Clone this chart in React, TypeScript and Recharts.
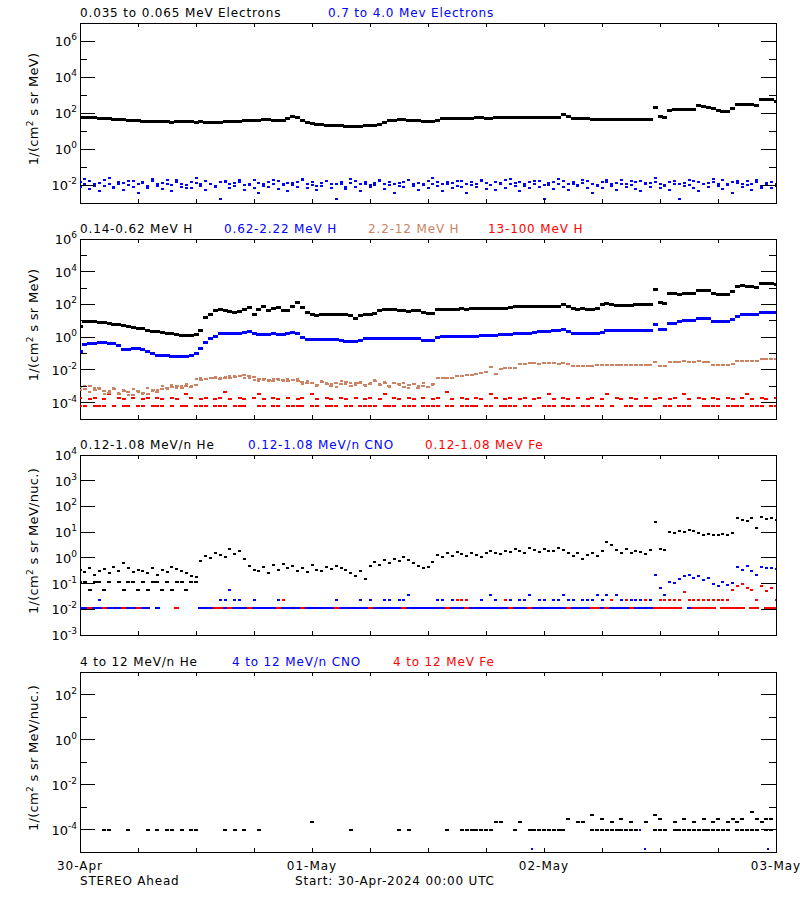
import { ScatterChart, Scatter, XAxis, YAxis, ReferenceArea } from 'recharts';

const N = null;
const STEP = 0.5; // hours between samples, starting 30-Apr 00:00
const HOUR_TICKS = [0, 6, 12, 18, 24, 30, 36, 42, 48, 54, 60, 66, 72];
const DAY_LABELS: Record<number, string> = { 0: '30-Apr', 24: '01-May', 48: '02-May', 72: '03-May' };

const P1_TICKS = [1e-3, 1e-2, 1e-1, 1, 10, 100, 1e3, 1e4, 1e5, 1e6, 1e7];
const P2_TICKS = [1e-5, 1e-4, 1e-3, 1e-2, 1e-1, 1, 10, 100, 1e3, 1e4, 1e5, 1e6];
const P3_TICKS = [1e-3, 1e-2, 1e-1, 1, 10, 100, 1e3, 1e4];
const P4_TICKS = [1e-5, 1e-4, 1e-3, 1e-2, 1e-1, 1, 10, 100, 1e3];

// 0.035 to 0.065 MeV electrons
const E_LOW = [
  58, 56, 55, 54, 52, 50, 48, 46, 44, 42, 40, 38, 36, 34,
  33, 33, 32, 33, 32, 31, 32, 32, 33, 32, 31, 32, 30, 29, 30, 31,
  32, 33, 34, 35, 36, 37, 38, 40, 42, 41, 40, 39, 40, 48, 63, 55, 40, 28,
  26, 24, 22, 21, 21, 20, 19, 18, 17, 17, 18, 19, 20, 21, 22, 30,
  36, 40, 41, 41, 40, 40, 39, 34, 33, 33, 40, 50,
  50, 51, 52, 52, 51, 52, 53, 53, 52, 52, 54, 55, 55, 55, 55, 56, 56, 55, 55, 54, 55, 55, 56, 56,
  78, 60, 52, 50, 48, 47, 46, 45, 44, 44, 45, 46, 45, 44, 44, 45, 46, 45, 46, 209,
  60, 55, 140, 148, 150, 158, 160, 162, 245, 240, 190, 182, 140, 128, 125, 180, 290, 302, 300, 290, 250, 560, 575, 570, 430,
];

// 0.7 to 4.0 MeV electrons
const E_HIGH_A = [
  0.014, 0.011, 0.016, 0.009, 0.013, 0.018, 0.012, 0.008, 0.015, 0.013, 0.010, 0.017, 0.012, 0.014, 0.009, 0.016,
  0.011, 0.013, 0.019, 0.010, 0.014, 0.012, 0.007, 0.015, 0.013, 0.011, 0.016, 0.012, 0.009, 0.014, 0.017, 0.011,
  0.013, 0.015, 0.010, 0.012, 0.018, 0.013, 0.009, 0.014, 0.012, 0.016, 0.011, 0.013, 0.010, 0.015, 0.020, 0.012,
  0.014, 0.009, 0.013, 0.016, 0.011, 0.012, 0.015, 0.008, 0.013, 0.017, 0.012, 0.014, 0.010, 0.013, 0.016, 0.011,
  0.015, 0.012, 0.009, 0.014, 0.018, 0.012, 0.013, 0.010, 0.016, 0.012, 0.014, 0.011, 0.015, 0.013, 0.009, 0.017,
  0.012, 0.014, 0.011, 0.016, 0.013, 0.010, 0.014, 0.012, 0.018, 0.011, 0.013, 0.015, 0.009, 0.014, 0.012, 0.016,
  0.010, 0.013, 0.015, 0.011, 0.017, 0.012, 0.014, 0.010, 0.013, 0.016, 0.012, 0.009, 0.014, 0.015, 0.011, 0.013,
  0.018, 0.012, 0.010, 0.014, 0.016, 0.011, 0.013, 0.015, 0.012, 0.009, 0.014, 0.017, 0.012, 0.013, 0.010, 0.016,
  0.014, 0.011, 0.013, 0.015, 0.012, 0.018, 0.010, 0.014, 0.013, 0.011, 0.016, 0.012, 0.014, 0.009, 0.013, 0.015, 0.011,
];
const E_HIGH_B = [
  0.0075, 0.021, 0.006, 0.012, 0.0045, 0.009, 0.024, 0.007, 0.011, 0.0055, 0.016, 0.008, 0.0035, 0.013, 0.007, 0.022,
  0.009, 0.006, 0.012, 0.0045, 0.018, 0.008, 0.010, 0.0065, 0.025, 0.009, 0.005, 0.011, 0.0075, 0.0016, 0.014, 0.0065,
  0.009, 0.020, 0.0055, 0.010, 0.007, 0.0035, 0.012, 0.008, 0.019, 0.006, 0.0095, 0.0045, 0.013, 0.0075, 0.022, 0.0065,
  0.010, 0.005, 0.0085, 0.017, 0.007, 0.0016, 0.011, 0.006, 0.021, 0.008, 0.0045, 0.012, 0.0075, 0.0095, 0.018, 0.006,
  0.010, 0.0035, 0.013, 0.0075, 0.020, 0.0085, 0.0055, 0.011, 0.007, 0.024, 0.009, 0.0045, 0.012, 0.0065, 0.016, 0.008,
  0.0035, 0.010, 0.0075, 0.019, 0.006, 0.0095, 0.005, 0.013, 0.007, 0.021, 0.0085, 0.0045, 0.011, 0.0065, 0.017, 0.008,
  0.0016, 0.0095, 0.006, 0.022, 0.0075, 0.005, 0.012, 0.0085, 0.018, 0.0065, 0.0035, 0.010, 0.007, 0.020, 0.009, 0.0055,
  0.011, 0.0075, 0.016, 0.006, 0.0045, 0.013, 0.008, 0.023, 0.007, 0.0095, 0.0055, 0.012, 0.0016, 0.0085, 0.019, 0.0065,
  0.0045, 0.011, 0.0075, 0.021, 0.009, 0.006, 0.012, 0.0035, 0.016, 0.008, 0.0095, 0.0055, 0.018, 0.007, 0.011, 0.0065, 0.0085,
];

// 0.14-0.62 MeV H
const H_LOW = [
  4.4, 8.9, 8.9, 8.5, 8.3, 7.9, 7.1, 6.3, 5.8, 5.0,
  4.5, 4.0, 3.5, 3.2, 2.6, 2.3, 2.1, 2.0, 1.7, 1.6,
  1.4, 1.3, 1.35, 1.3, 1.4, 2.5, 16, 25, 40, 46,
  42, 38, 32, 35, 50, 63, 25, 50, 79, 40,
  56, 63, 40, 45, 71, 135, 63, 32, 24, 22,
  25, 26, 25, 26, 24, 23, 20, 14, 20, 25,
  26, 28, 40, 46, 47, 46, 42, 40, 38, 40,
  40, 32, 28, 27, 48, 50, 50, 52, 52, 53,
  52, 54, 53, 55, 54, 53, 55, 56, 58, 68,
  72, 74, 76, 75, 78, 76, 77, 79, 80, 78,
  100, 79, 55, 52, 53, 52, 52, 54, 100, 117,
  100, 89, 90, 92, 91, 93, 94, 95, 96, 870,
  126, 112, 447, 479, 398, 457, 479, 447, 708, 759,
  724, 501, 417, 398, 417, 603, 1259, 1349, 1318, 1259,
  1122, 1905, 1995, 1950, 1778,
];

// 0.62-2.22 MeV H
const H_MID = [
  0.13, 0.35, 0.42, 0.44, 0.45, 0.46, 0.44, 0.40, 0.32, 0.17,
  0.18, 0.19, 0.19, 0.18, 0.14, 0.10, 0.079, 0.076, 0.071, 0.063,
  0.065, 0.066, 0.063, 0.079, 0.10, 0.20, 0.50, 0.85, 1.07, 1.58,
  1.70, 1.66, 1.58, 1.78, 2.0, 2.14, 1.58, 1.51, 1.48, 1.51,
  1.58, 1.51, 1.48, 1.66, 2.0, 1.78, 1.0, 0.71, 0.68, 0.69,
  0.68, 0.71, 0.68, 0.69, 0.63, 0.52, 0.52, 0.54, 0.63, 0.83,
  0.85, 0.87, 0.89, 0.85, 0.87, 0.89, 0.85, 0.87, 0.85, 0.87,
  0.85, 0.63, 0.60, 0.59, 1.0, 1.07, 1.07, 1.07, 1.1, 1.07,
  1.1, 1.12, 1.15, 1.2, 1.25, 1.35, 1.35, 1.4, 1.45, 1.55,
  1.62, 1.7, 1.75, 1.8, 1.95, 2.1, 2.2, 2.3, 2.5, 2.7,
  2.9, 2.2, 1.7, 1.68, 1.7, 1.72, 1.7, 1.75, 2.0, 2.7,
  2.7, 2.5, 2.4, 2.4, 2.4, 2.45, 2.4, 2.4, 2.45, 6.0,
  2.8, 2.8, 7.1, 7.1, 8.9, 9.8, 9.8, 10, 14, 14,
  13, 8.9, 8.9, 8.5, 8.9, 12.6, 17.8, 25, 25, 25,
  24, 33, 33, 33, 32,
];

// 2.2-12 MeV H
const H_HIGH = [
  9e-4, 7e-4, 1.1e-3, 6e-4, 8e-4, 5e-4, 4e-4, 7e-4, 3.5e-4, 5e-4,
  4.5e-4, 3e-4, 5.5e-4, 4e-4, 3.5e-4, 6e-4, 4.5e-4, 7e-4, 8e-4, 9e-4,
  1.1e-3, 8e-4, 1.0e-3, 9e-4, 1.2e-3, 2.4e-3, 2.8e-3, 3.0e-3, 3.2e-3, 2.9e-3,
  3.1e-3, 3.4e-3, 3.8e-3, 4.2e-3, 4.9e-3, 4.5e-3, 3.6e-3, 2.9e-3, 2.6e-3, 2.4e-3,
  2.2e-3, 2.6e-3, 2.3e-3, 2.1e-3, 2.5e-3, 2.2e-3, 1.8e-3, 1.5e-3, 1.7e-3, 1.2e-3,
  1.9e-3, 1.4e-3, 1.1e-3, 1.6e-3, 1.3e-3, 1.8e-3, 1.0e-3, 1.5e-3, 1.7e-3, 1.2e-3,
  1.4e-3, 2.0e-3, 1.2e-3, 1.6e-3, 1.1e-3, 1.5e-3, 1.3e-3, 9e-4, 1.2e-3, 1.4e-3,
  8e-4, 1.1e-3, 9e-4, 1.3e-3, 3.0e-3, 3.2e-3, 3.0e-3, 3.4e-3, 4.0e-3, 4.4e-3,
  4.6e-3, 5.0e-3, 5.6e-3, 6.4e-3, 7.2e-3, 0.016, 5.4e-3, 0.012, 0.0126, 0.013,
  0.014, 0.022, 0.024, 0.025, 0.025, 0.024, 0.025, 0.026, 0.025, 0.024,
  0.026, 0.022, 0.018, 0.018, 0.017, 0.018, 0.018, 0.019, 0.020, 0.021,
  0.020, 0.020, 0.021, 0.020, 0.019, 0.020, 0.020, 0.021, 0.020, 0.032,
  0.017, 0.018, 0.030, 0.032, 0.031, 0.033, 0.032, 0.031, 0.033, 0.032,
  0.030, 0.021, 0.020, 0.019, 0.020, 0.024, 0.034, 0.035, 0.035, 0.034,
  0.036, 0.046, 0.047, 0.046, 0.045,
];
const H_HIGH_B = [
  6e-4, 1.0e-3, 4.5e-4, 8e-4, 6.5e-4, 3.5e-4, 5.5e-4, 8e-4, 4e-4, 6e-4,
  3e-4, 6.5e-4, 4.5e-4, 3.5e-4, 7.5e-4, 5e-4, 6e-4, 1.0e-3, 7e-4, 1.2e-3,
  8e-4, 1.1e-3, 1.3e-3, 1.0e-3, 2.6e-3, 3.4e-3, 2.7e-3, 3.3e-3, 3.6e-3, 3.0e-3,
  3.5e-3, 4.0e-3, 4.4e-3, 4.0e-3, 3.2e-3, 3.0e-3, 2.4e-3, 2.1e-3, 2.5e-3, 2.0e-3,
  2.7e-3, 2.4e-3, 2.0e-3, 2.8e-3, 2.3e-3, 2.6e-3, 1.4e-3, 2.0e-3, 1.5e-3, 1.1e-3,
  2.2e-3, 1.6e-3, 1.3e-3, 9e-4, 2.1e-3, 1.4e-3, 1.7e-3, 1.2e-3, 1.9e-3, 1.0e-3,
  1.6e-3, 2.3e-3, 1.3e-3, 1.8e-3, 9e-4, 1.5e-3, 1.2e-3, 1.7e-3, 8e-4, 1.3e-3,
  1.0e-3, 1.5e-3, 9e-4, 1.2e-3,
];

// 13-100 MeV H
const H_TOP_A = [
  2e-4, N, 1.6e-4, 2e-4, N, 1.6e-4, 3.2e-4, N, 2e-4, 1.6e-4,
  N, 2e-4, N, 1.6e-4, 2e-4, N, 2e-4, 1.6e-4, N, 2e-4,
  1.6e-4, N, 3.2e-4, 2e-4, N, 1.6e-4, 2e-4, N, 1.6e-4, 2e-4,
  4.7e-4, 1.6e-4, N, 2e-4, 1.6e-4, N, 2e-4, 3.2e-4, 1.6e-4, N,
  2e-4, 1.6e-4, N, 2e-4, N, 1.6e-4, 2e-4, N, 3.2e-4, 1.6e-4,
  N, 2e-4, 1.6e-4, N, 2e-4, 1.6e-4, N, 2e-4, N, 1.6e-4,
  2e-4, N, 1.6e-4, 3.2e-4, N, 2e-4, 1.6e-4, N, 2e-4, 1.6e-4,
  N, 2e-4, N, 1.6e-4, 2e-4, N, 4.7e-4, 1.6e-4, N, 2e-4,
  1.6e-4, N, 2e-4, 1.6e-4, N, 3.2e-4, 2e-4, N, 1.6e-4, 2e-4,
  N, 1.6e-4, 2e-4, N, 1.6e-4, 2e-4, N, 3.2e-4, 1.6e-4, N,
  2e-4, 1.6e-4, N, 2e-4, N, 1.6e-4, 2e-4, N, 1.6e-4, 3.2e-4,
  N, 2e-4, 1.6e-4, N, 2e-4, 1.6e-4, N, 2e-4, N, 1.6e-4,
  2e-4, N, 1.6e-4, 2e-4, N, 3.2e-4, 1.6e-4, N, 2e-4, 1.6e-4,
  N, 2e-4, 1.6e-4, N, 2e-4, 1.6e-4, N, 2e-4, 3.2e-4, 1.6e-4,
  N, 2e-4, 1.6e-4, N, 2e-4,
];
const H_TOP_B = [
  6.5e-5, 6.5e-5, N, 6.5e-5, 6.5e-5, 6.5e-5, N, 6.5e-5, N, 6.5e-5,
  6.5e-5, N, 6.5e-5, 6.5e-5, N, 6.5e-5, 6.5e-5, 6.5e-5, N, 6.5e-5,
  N, 6.5e-5, 6.5e-5, N, 6.5e-5, 6.5e-5, 6.5e-5, N, 6.5e-5, 6.5e-5,
  6.5e-5, N, 6.5e-5, 6.5e-5, 6.5e-5, N, N, 6.5e-5, 6.5e-5, N,
  6.5e-5, 6.5e-5, N, 6.5e-5, 6.5e-5, 6.5e-5, 6.5e-5, N, 6.5e-5, 6.5e-5,
  N, 6.5e-5, 6.5e-5, 6.5e-5, N, 6.5e-5, 6.5e-5, N, 6.5e-5, 6.5e-5,
  6.5e-5, 6.5e-5, N, 6.5e-5, 6.5e-5, 6.5e-5, N, 6.5e-5, 6.5e-5, 6.5e-5,
  N, 6.5e-5, 6.5e-5, 6.5e-5, 6.5e-5, N, 6.5e-5, 6.5e-5, N, 6.5e-5,
  6.5e-5, 6.5e-5, 6.5e-5, N, 6.5e-5, 6.5e-5, N, 6.5e-5, 6.5e-5, 6.5e-5,
  6.5e-5, N, 6.5e-5, 6.5e-5, N, N, 6.5e-5, 6.5e-5, 6.5e-5, N,
  6.5e-5, 6.5e-5, 6.5e-5, N, 6.5e-5, 6.5e-5, N, 6.5e-5, 6.5e-5, N,
  6.5e-5, N, N, 6.5e-5, 6.5e-5, N, 6.5e-5, 6.5e-5, 6.5e-5, N,
  N, 6.5e-5, 6.5e-5, N, 6.5e-5, 6.5e-5, 6.5e-5, N, N, 6.5e-5,
  6.5e-5, 6.5e-5, 6.5e-5, N, 6.5e-5, 6.5e-5, 6.5e-5, 6.5e-5, N, 6.5e-5,
  6.5e-5, 6.5e-5, N, 6.5e-5, 6.5e-5,
];

// 0.12-1.08 MeV/n He
const HE_LOW = [
  0.35, 0.28, 0.42, 0.22, 0.30, 0.38, 0.25, 0.45, 0.32, 0.62,
  0.40, 0.28, 0.35, 0.30, 0.26, 0.40, 0.22, 0.33, 0.28, 0.45,
  0.38, 0.30, 0.25, 0.20, 0.18, 0.75, 1.2, 0.95, 1.5, 1.3,
  1.1, 2.2, 1.4, 1.8, 0.9, 0.5, 0.35, 0.3, 0.45, 0.25,
  0.55, 0.35, 0.6, 0.42, 0.48, 0.32, 0.4, 0.28, 0.55, 0.35,
  0.3, 0.45, 0.38, 0.5, 0.42, 0.33, 0.25, 0.2, 0.3, 0.15,
  0.5, 0.7, 0.55, 0.8, 0.65, 0.9, 0.75, 1.1, 0.85, 0.65,
  0.5, 0.4, 0.45, 0.7, 1.3, 1.1, 1.5, 1.2, 1.7, 1.4,
  1.2, 1.6, 1.3, 1.1, 1.5, 1.8, 1.6, 1.4, 1.9, 1.7,
  2.2, 1.8, 1.6, 2.4, 2.0, 1.7, 2.3, 1.9, 1.8, 2.5,
  2.1, 1.6, 1.2, 1.5, 0.9, 1.3, 1.6, 1.2, 1.9, 4.3,
  3.2, 2.1, 1.6, 2.2, 1.5, 1.9, 1.7, 1.4, 2.0, 24,
  2.3, 2.0, 10.5, 9, 11, 10, 12, 11, 9, 7.8,
  8.5, 7.5, 7.8, 8.2, 7.5, 9, 35, 30, 26, 34,
  14, 40, 32, 36, 30,
];
const HE_LOW_B = [
  0.12, 0.12, 0.056, 0.12, 0.12, 0.056, 0.12, N, 0.12, 0.056,
  0.12, 0.12, 0.056, 0.12, 0.056, 0.12, 0.12, 0.056, 0.12, 0.056,
  0.12, 0.12, 0.056, 0.12, 0.12,
];

// 0.12-1.08 MeV/n CNO
const CNO_LOW = [
  0.011, 0.011, N, 0.011, 0.011, N, 0.011, 0.011, 0.011, N,
  0.011, 0.011, N, 0.011, 0.011, N, 0.011, N, N, N,
  N, N, N, N, N, 0.011, 0.011, 0.011, N, 0.011,
  0.011, N, 0.011, 0.011, 0.011, N, 0.011, 0.011, 0.011, 0.011,
  0.011, N, 0.011, 0.011, 0.011, 0.011, N, 0.011, 0.011, 0.011,
  0.011, 0.011, 0.011, N, 0.011, 0.011, 0.011, 0.011, 0.011, 0.011,
  N, 0.011, 0.011, 0.011, 0.011, 0.011, 0.011, N, 0.011, 0.011,
  0.011, 0.011, 0.011, 0.011, 0.011, 0.011, N, 0.011, 0.011, 0.011,
  N, 0.011, 0.011, 0.011, 0.011, 0.011, 0.011, 0.011, 0.011, N,
  0.011, 0.011, 0.011, N, 0.011, 0.011, 0.011, 0.011, 0.011, 0.011,
  0.011, N, 0.011, 0.011, 0.011, 0.011, N, 0.011, 0.011, N,
  0.011, 0.011, 0.011, 0.011, N, 0.011, 0.011, 0.011, 0.011, N,
  N, N, N, N, N, N, 0.011, N, N, N,
];
const CNO_HIGH = [
  N, N, N, N, 0.023, N, N, N, N, N,
  N, N, N, N, N, N, N, N, N, N,
  N, N, N, N, N, N, N, N, N, 0.023,
  0.023, 0.056, 0.023, 0.023, N, N, 0.023, N, N, N,
  N, 0.023, N, N, N, N, N, N, N, N,
  N, N, N, 0.023, N, N, N, N, 0.023, N,
  0.023, N, N, 0.023, 0.023, N, 0.023, 0.023, 0.035, N,
  N, N, N, N, 0.023, 0.023, N, 0.023, N, N,
  0.023, N, N, 0.023, N, 0.035, 0.023, N, 0.023, 0.023,
  N, 0.023, 0.023, 0.035, N, 0.023, 0.023, N, 0.023, 0.023,
  0.035, 0.023, 0.023, N, 0.023, 0.023, 0.023, 0.035, 0.023, 0.035,
  0.023, 0.035, 0.023, N, 0.023, 0.023, 0.023, 0.023, 0.023, 0.21,
  0.065, 0.035, 0.12, 0.11, 0.15, 0.2, 0.21, 0.17, 0.19, 0.14,
  0.16, 0.1, 0.08, 0.12, 0.09, 0.11, 0.45, 0.35, 0.47, 0.3,
  0.21, 0.45, 0.4, 0.42, 0.38,
];

// 0.12-1.08 MeV Fe
const FE_LOW = [
  N, N, 0.011, N, N, 0.011, N, N, N, 0.011,
  N, N, 0.011, N, N, N, N, N, N, N,
  0.011, N, N, N, N, N, N, N, 0.011, 0.011,
  N, 0.011, N, N, N, 0.011, N, N, N, N,
  N, 0.011, N, N, N, N, 0.011, N, N, N,
  N, N, N, 0.011, N, N, N, N, N, N,
  0.011, N, N, N, N, N, N, 0.011, N, N,
  N, N, N, N, N, N, 0.011, N, N, N,
  0.011, N, N, N, N, N, N, N, N, 0.011,
  N, N, N, 0.011, N, N, N, N, N, N,
  N, 0.011, N, N, N, N, 0.011, 0.011, N, 0.011,
  N, N, N, N, 0.011, N, N, N, N, 0.011,
  0.011, 0.011, 0.011, 0.011, 0.011, N, N, 0.011, 0.011, 0.011,
  0.011, 0.011, N, 0.011, 0.011, 0.011, 0.011, 0.011, N, 0.011,
  0.011, N, 0.011, 0.011, 0.011,
];
const FE_HIGH = [
  N, N, N, N, N, N, N, N, N, N,
  N, N, N, N, N, N, N, N, N, N,
  N, N, N, N, N, N, N, N, N, N,
  N, N, N, N, N, N, N, N, N, N,
  N, N, 0.023, N, N, N, N, N, N, N,
  N, N, N, N, N, N, N, N, N, N,
  N, N, N, N, N, N, N, N, N, N,
  N, N, N, N, N, N, N, N, 0.023, 0.023,
  0.023, N, N, N, N, N, N, N, 0.023, N,
  N, N, N, N, N, N, N, N, N, N,
  N, N, N, N, N, N, N, N, N, N,
  0.023, N, N, 0.023, N, N, N, 0.023, N, N,
  0.023, 0.023, 0.023, 0.023, 0.023, 0.047, 0.023, 0.023, 0.023, 0.023,
  0.023, 0.023, 0.023, 0.023, 0.023, 0.056, 0.08, 0.1, 0.07, 0.056,
  0.023, 0.08, 0.05, 0.065, 0.023,
];

// 4 to 12 MeV/n He, [hour, value]
const HE_HIGH = [
  [2.5, 1e-4], [3, 1e-4], [5, 1e-4], [7, 1e-4], [8, 1e-4], [9, 1e-4], [9.5, 1e-4], [10.5, 1e-4],
  [11.5, 1e-4], [12, 1e-4], [15, 1e-4], [16, 1e-4], [17, 1e-4], [18.5, 1e-4], [24, 2.2e-4], [28, 1e-4],
  [33, 1e-4], [34, 1e-4], [38, 1e-4], [39.5, 1e-4], [40, 1e-4], [40.5, 1e-4], [41, 1e-4], [41.5, 1e-4],
  [42, 1e-4], [42.5, 1e-4], [43, 2.2e-4], [43.5, 2.2e-4], [45, 1e-4], [45.5, 2.2e-4], [46.5, 1e-4], [47, 1e-4],
  [47.5, 1e-4], [48, 1e-4], [48.5, 1e-4], [49, 1e-4], [49.5, 1e-4], [50, 1e-4], [50.5, 3e-4], [51.5, 2.2e-4],
  [52, 2.2e-4], [53, 4.4e-4], [53, 1e-4], [53.5, 1e-4], [54, 1e-4], [54, 3e-4], [54.5, 1e-4], [55, 2.2e-4],
  [55, 1e-4], [55.5, 1e-4], [56, 3e-4], [56, 1e-4], [56.5, 1e-4], [57, 2.2e-4], [57, 1e-4], [57.5, 1e-4],
  [58.5, 2.2e-4], [59.5, 4.4e-4], [59.5, 1e-4], [60, 3e-4], [60, 1e-4], [60.5, 1e-4], [61.5, 2.2e-4], [61.5, 1e-4],
  [62, 1e-4], [62.5, 3e-4], [62.5, 1e-4], [63, 1e-4], [63.5, 2.2e-4], [63.5, 1e-4], [64, 1e-4], [64.5, 3e-4],
  [64.5, 1e-4], [65, 1e-4], [65.5, 2.2e-4], [65.5, 1e-4], [66, 3e-4], [66, 1e-4], [66.5, 1e-4], [67, 2.2e-4],
  [67, 1e-4], [67.5, 3e-4], [68, 2.2e-4], [68, 1e-4], [68.5, 3e-4], [68.5, 1e-4], [69, 1e-4], [69.5, 5.7e-4],
  [69.5, 1e-4], [70, 3e-4], [70, 1e-4], [70.5, 2.2e-4], [71, 3e-4], [71, 1e-4], [71.5, 3e-4], [71.5, 1e-4],
];
// 4 to 12 MeV/n CNO, [hour, value]
const CNO_HIGH_E = [[46.8, 1.4e-5], [57.9, 1e-4], [58.4, 1.4e-5], [71.2, 1.4e-5]];

type Pt = { x: number; y: number };
const series = (vals: (number | null)[]): Pt[] =>
  vals.flatMap((y, i) => (y == null ? [] : [{ x: i * STEP, y }]));
const pairs = (list: number[][]): Pt[] => list.map(([x, y]) => ({ x, y }));

const BLACK = '#000000';
const BLUE = '#0000ff';
const BROWN = '#cd8264';
const RED = '#ff0000';
const FONT = '"DejaVu Sans", sans-serif';
const PLOT_W = 696;
const PLOT_H = 180;

const dash = (w: number, h: number, color: string) => (p: any) => (
  <rect x={p.cx - w / 2} y={p.cy - h / 2} width={w} height={h} fill={color} />
);

const yTick = (labelAll: boolean) => (props: any) => {
  const { x, y, payload } = props;
  const exp = Math.round(Math.log10(payload.value));
  const major = labelAll || exp % 2 === 0;
  const len = major ? 15 : 7;
  return (
    <g>
      <line x1={x} x2={x + len} y1={y} y2={y} stroke={BLACK} />
      <line x1={x + PLOT_W} x2={x + PLOT_W - len} y1={y} y2={y} stroke={BLACK} />
      {major && (
        <text x={x - 3} y={y + 5} textAnchor="end" fontSize={13} fontFamily={FONT} fill={BLACK}>
          10<tspan dy={-6} fontSize={9}>{exp}</tspan>
        </text>
      )}
    </g>
  );
};

const xTick = (showDates: boolean) => (props: any) => {
  const { x, y, payload } = props;
  const label = DAY_LABELS[payload.value];
  return (
    <g>
      <line x1={x} x2={x} y1={y} y2={y - 4} stroke={BLACK} />
      <line x1={x} x2={x} y1={y - PLOT_H} y2={y - PLOT_H + 4} stroke={BLACK} />
      {showDates && label && (
        <text x={x} y={y + 18} textAnchor="middle" fontSize={12} letterSpacing={1} fontFamily={FONT} fill={BLACK}>
          {label}
        </text>
      )}
    </g>
  );
};

interface Layer { data: Pt[]; color: string; w: number; h?: number }
interface PanelProps {
  top: number;
  domain: [number, number];
  ticks: number[];
  labelAll?: boolean;
  showDates?: boolean;
  titles: { text: string; color: string; left: number }[];
  unit: string;
  layers: Layer[];
}

const Panel = ({ top, domain, ticks, labelAll = false, showDates = false, titles, unit, layers }: PanelProps) => (
  <>
    {titles.map((t) => (
      <span
        key={t.text}
        style={{ position: 'absolute', left: t.left, top: top - 16, color: t.color, fontSize: 12, lineHeight: '12px', letterSpacing: 0.85, whiteSpace: 'nowrap' }}
      >
        {t.text}
      </span>
    ))}
    <div
      style={{ position: 'absolute', left: 34, top: top + 86, transform: 'translate(-50%, -50%) rotate(-90deg)', fontSize: 13, lineHeight: '14px', whiteSpace: 'nowrap', letterSpacing: 0.3 }}
    >
      1/(cm<sup style={{ fontSize: 9, lineHeight: 0 }}>2</sup> s sr {unit})
    </div>
    <div style={{ position: 'absolute', left: 0, top: top - 10 }}>
      <ScatterChart width={800} height={PLOT_H + 50} margin={{ top: 10, right: 24, bottom: 0, left: 0 }}>
        <XAxis
          type="number"
          dataKey="x"
          domain={[0, 72]}
          ticks={HOUR_TICKS}
          interval={0}
          height={40}
          axisLine={false}
          tickLine={false}
          tickSize={0}
          tickMargin={0}
          tick={xTick(showDates)}
          allowDataOverflow
        />
        <YAxis
          type="number"
          dataKey="y"
          scale="log"
          domain={domain}
          ticks={ticks}
          interval={0}
          width={80}
          axisLine={false}
          tickLine={false}
          tickSize={0}
          tickMargin={0}
          tick={yTick(labelAll)}
          allowDataOverflow
        />
        <ReferenceArea x1={0} x2={72} y1={domain[0]} y2={domain[1]} fill="none" stroke={BLACK} strokeWidth={1} ifOverflow="visible" />
        {layers.map((l, i) => (
          <Scatter key={i} data={l.data} fill={l.color} shape={dash(l.w, l.h ?? 2, l.color)} isAnimationActive={false} />
        ))}
      </ScatterChart>
    </div>
  </>
);

export default function App() {
  return (
    <div
      style={{ position: 'absolute', left: 0, top: 0, width: 800, height: 900, background: '#fff', fontFamily: FONT, color: BLACK, overflow: 'hidden', shapeRendering: 'crispEdges' }}
    >
      <Panel
        top={23}
        domain={[1e-3, 1e7]}
        ticks={P1_TICKS}
        unit="MeV"
        titles={[
          { text: '0.035 to 0.065 MeV Electrons', color: BLACK, left: 80 },
          { text: '0.7 to 4.0 Mev Electrons', color: BLUE, left: 328 },
        ]}
        layers={[
          { data: series(E_HIGH_B), color: BLUE, w: 3 },
          { data: series(E_HIGH_A), color: BLUE, w: 3 },
          { data: series(E_LOW), color: BLACK, w: 5, h: 3 },
        ]}
      />
      <Panel
        top={239}
        domain={[1e-5, 1e6]}
        ticks={P2_TICKS}
        unit="MeV"
        titles={[
          { text: '0.14-0.62 MeV H', color: BLACK, left: 80 },
          { text: '0.62-2.22 MeV H', color: BLUE, left: 224 },
          { text: '2.2-12 MeV H', color: BROWN, left: 368 },
          { text: '13-100 MeV H', color: RED, left: 488 },
        ]}
        layers={[
          { data: series(H_TOP_B), color: RED, w: 4 },
          { data: series(H_TOP_A), color: RED, w: 4 },
          { data: series(H_HIGH_B), color: BROWN, w: 3 },
          { data: series(H_HIGH), color: BROWN, w: 4 },
          { data: series(H_MID), color: BLUE, w: 5, h: 3 },
          { data: series(H_LOW), color: BLACK, w: 5, h: 3 },
        ]}
      />
      <Panel
        top={455}
        domain={[1e-3, 1e4]}
        ticks={P3_TICKS}
        labelAll
        unit="MeV/nuc."
        titles={[
          { text: '0.12-1.08 MeV/n He', color: BLACK, left: 80 },
          { text: '0.12-1.08 MeV/n CNO', color: BLUE, left: 248 },
          { text: '0.12-1.08 MeV Fe', color: RED, left: 425 },
        ]}
        layers={[
          { data: series(CNO_LOW), color: BLUE, w: 5 },
          { data: series(FE_LOW), color: RED, w: 5 },
          { data: series(CNO_HIGH), color: BLUE, w: 3 },
          { data: series(FE_HIGH), color: RED, w: 3 },
          { data: series(HE_LOW_B), color: BLACK, w: 4 },
          { data: series(HE_LOW), color: BLACK, w: 3 },
        ]}
      />
      <Panel
        top={672}
        domain={[1e-5, 1e3]}
        ticks={P4_TICKS}
        showDates
        unit="MeV/nuc."
        titles={[
          { text: '4 to 12 MeV/n He', color: BLACK, left: 80 },
          { text: '4 to 12 MeV/n CNO', color: BLUE, left: 232 },
          { text: '4 to 12 MeV Fe', color: RED, left: 393 },
        ]}
        layers={[
          { data: pairs(CNO_HIGH_E), color: BLUE, w: 2 },
          { data: pairs(HE_HIGH), color: BLACK, w: 4 },
        ]}
      />
      <span style={{ position: 'absolute', left: 80, top: 875, fontSize: 12, lineHeight: '12px', letterSpacing: 0.8, whiteSpace: 'nowrap' }}>
        STEREO Ahead
      </span>
      <span style={{ position: 'absolute', left: 295, top: 875, fontSize: 12, lineHeight: '12px', letterSpacing: 0.8, whiteSpace: 'nowrap' }}>
        Start: 30-Apr-2024 00:00 UTC
      </span>
    </div>
  );
}
